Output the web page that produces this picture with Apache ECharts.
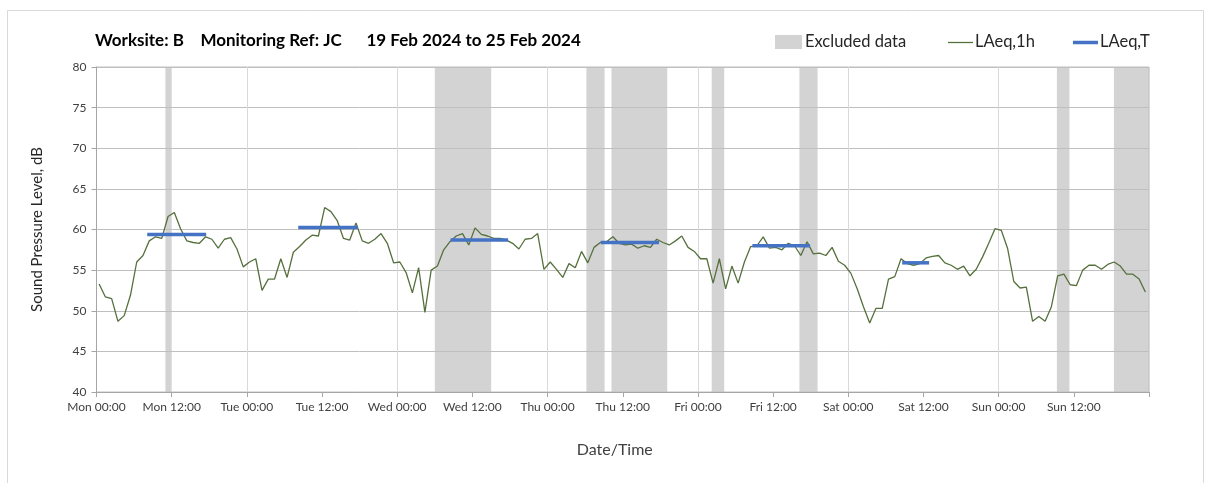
<!DOCTYPE html>
<html><head><meta charset="utf-8">
<script src="https://cdn.jsdelivr.net/npm/echarts@6/dist/echarts.min.js"></script>
<style>html,body{margin:0;padding:0;background:#fff}#c{width:1208px;height:483px}</style>
</head><body><div id="c"></div>
<script>
// x tick labels every 12 hours, from Mon 00:00 to Sun 24:00
const tickLabels = ['Mon 00:00','Mon 12:00','Tue 00:00','Tue 12:00','Wed 00:00','Wed 12:00','Thu 00:00','Thu 12:00','Fri 00:00','Fri 12:00','Sat 00:00','Sat 12:00','Sun 00:00','Sun 12:00',''];
// hourly LAeq,1h values (dB), one per hour from Mon 00:00
const laeq1h = [
 53.3,51.7,51.5,48.7,49.4,51.9,56.0,56.8,58.6,59.1,58.9,61.6,62.1,60.1,58.6,58.4,58.3,59.1,58.8,57.7,58.8,59.0,57.6,55.4,
 56.0,56.4,52.5,53.9,53.9,56.4,54.1,57.2,57.9,58.7,59.3,59.2,62.7,62.2,61.1,58.9,58.7,60.8,58.6,58.3,58.8,59.5,58.3,55.9,
 56.0,54.7,52.2,55.3,49.8,55.0,55.5,57.5,58.5,59.2,59.5,58.1,60.2,59.4,59.2,58.9,58.9,58.7,58.3,57.6,58.8,58.9,59.5,55.1,
 56.0,55.1,54.1,55.8,55.3,57.3,55.9,57.8,58.4,58.5,59.1,58.3,58.1,58.2,57.7,58.0,57.8,58.8,58.4,58.1,58.6,59.2,57.8,57.3,
 56.4,56.4,53.4,56.4,52.7,55.5,53.4,56.0,57.9,58.0,59.1,57.7,57.8,57.5,58.3,58.0,56.8,58.5,57.0,57.1,56.8,57.8,56.1,55.6,
 54.6,52.7,50.5,48.5,50.3,50.3,53.9,54.2,56.4,55.8,55.6,55.8,56.5,56.7,56.8,55.9,55.6,55.1,55.5,54.3,55.1,56.6,58.3,60.1,
 59.9,57.7,53.6,52.8,52.9,48.7,49.3,48.7,50.5,54.3,54.5,53.2,53.1,55.0,55.6,55.6,55.1,55.7,56.0,55.5,54.5,54.5,53.9,52.3
];
// LAeq,T periods: start hour, end hour, level (dB)
const laeqTStart = [8.1, 32.2, 56.5, 80.5, 104.7, 128.6];
const laeqTEnd   = [17.5, 41.7, 65.7, 89.8, 113.9, 132.9];
const laeqTValue = [59.4, 60.25, 58.7, 58.4, 58.0, 55.9];
// Excluded data periods: start hour, end hour
const exclStart = [11, 54, 78.2, 82.2, 98.2, 112.2, 153.3, 162.4];
const exclEnd   = [12, 63, 81.1, 91.1, 100.2, 115.1, 155.3, 168];

const FONT = 'Lato';
const lineData = laeq1h.map((v, i) => [i + 0.42, v]);
const tData = laeqTStart.map((s, i) => [s, laeqTEnd[i], laeqTValue[i]]);
const exData = exclStart.map((s, i) => [s, exclEnd[i]]);

const chart = echarts.init(document.getElementById('c'), null, {renderer: 'canvas'});
chart.setOption({
  animation: false,
  backgroundColor: '#ffffff',
  textStyle: {fontFamily: FONT},
  title: {
    text: 'Worksite: B    Monitoring Ref: JC      19 Feb 2024 to 25 Feb 2024',
    left: 90, top: 27,
    textStyle: {fontFamily: FONT, fontWeight: 'bold', fontSize: 17, color: '#000000'}
  },
  grid: {left: 96.5, right: 59, top: 67, bottom: 91, show: true, borderColor: '#bfbfbf', borderWidth: 1},
  xAxis: [{
    type: 'value', min: 0, max: 168, interval: 12,
    axisLine: {show: true, lineStyle: {color: '#a6a6a6'}},
    axisTick: {show: true, length: 5, lineStyle: {color: '#a6a6a6'}},
    axisLabel: {formatter: v => tickLabels[Math.round(v / 12)], color: '#404040', fontSize: 12, margin: 9, fontFamily: FONT, showMaxLabel: true},
    splitLine: {show: false},
    name: 'Date/Time', nameLocation: 'middle', nameGap: 50,
    nameTextStyle: {fontSize: 16, color: '#404040', fontFamily: FONT, padding: [0, 16, 0, 0]}
  }, {
    type: 'value', min: 0, max: 168, interval: 24, position: 'bottom',
    axisLine: {show: false}, axisTick: {show: false}, axisLabel: {show: false},
    splitLine: {show: true, lineStyle: {color: '#d9d9d9', width: 1}}
  }],
  yAxis: {
    type: 'value', min: 40, max: 80, interval: 5,
    axisLine: {show: true, lineStyle: {color: '#a6a6a6'}},
    axisTick: {show: true, length: 5, lineStyle: {color: '#a6a6a6'}},
    axisLabel: {color: '#404040', fontSize: 12, margin: 10, fontFamily: FONT},
    splitLine: {show: true, lineStyle: {color: '#bfbfbf', width: 1}},
    name: 'Sound Pressure Level, dB', nameLocation: 'middle', nameGap: 52,
    nameTextStyle: {fontSize: 15, color: '#262626', fontFamily: FONT}
  },
  series: [{
    name: 'Excluded data', type: 'custom', z: -1,
    encode: {x: [0, 1]},
    data: exData,
    renderItem: (params, api) => {
      const a = api.coord([api.value(0), 80]);
      const b = api.coord([api.value(1), 40]);
      return {type: 'rect', shape: {x: a[0], y: a[1], width: b[0] - a[0], height: b[1] - a[1]}, style: {fill: '#d3d3d3'}};
    }
  }, {
    name: 'LAeq,1h', type: 'line', data: lineData, showSymbol: false, z: 3,
    lineStyle: {color: '#55703d', width: 1.3}
  }, {
    name: 'LAeq,T', type: 'custom', z: 4,
    encode: {x: [0, 1], y: 2},
    data: tData,
    renderItem: (params, api) => {
      const a = api.coord([api.value(0), api.value(2)]);
      const b = api.coord([api.value(1), api.value(2)]);
      return {type: 'line', shape: {x1: a[0], y1: a[1], x2: b[0], y2: b[1]}, style: {stroke: '#4472c4', lineWidth: 3.5}};
    }
  }],
  graphic: [
    {type: 'rect', left: 5, top: 8, shape: {width: 1196, height: 473}, style: {fill: 'none', stroke: '#d9d9d9', lineWidth: 1}, silent: true, z: -10},
    {type: 'rect', shape: {x: 775, y: 35, width: 27, height: 14}, style: {fill: '#d3d3d3'}},
    {type: 'text', x: 805, y: 42, style: {text: 'Excluded data', fontSize: 16.5, fill: '#262626', fontFamily: FONT, verticalAlign: 'middle'}},
    {type: 'line', shape: {x1: 948, y1: 42.5, x2: 973, y2: 42.5}, style: {stroke: '#55703d', lineWidth: 1.3}},
    {type: 'text', x: 975, y: 42, style: {text: 'LAeq,1h', fontSize: 16.5, fill: '#262626', fontFamily: FONT, verticalAlign: 'middle'}},
    {type: 'line', shape: {x1: 1073, y1: 42.5, x2: 1098, y2: 42.5}, style: {stroke: '#4472c4', lineWidth: 3.5}},
    {type: 'text', x: 1100, y: 42, style: {text: 'LAeq,T', fontSize: 16.5, fill: '#262626', fontFamily: FONT, verticalAlign: 'middle'}}
  ]
});
</script>
</body></html>
